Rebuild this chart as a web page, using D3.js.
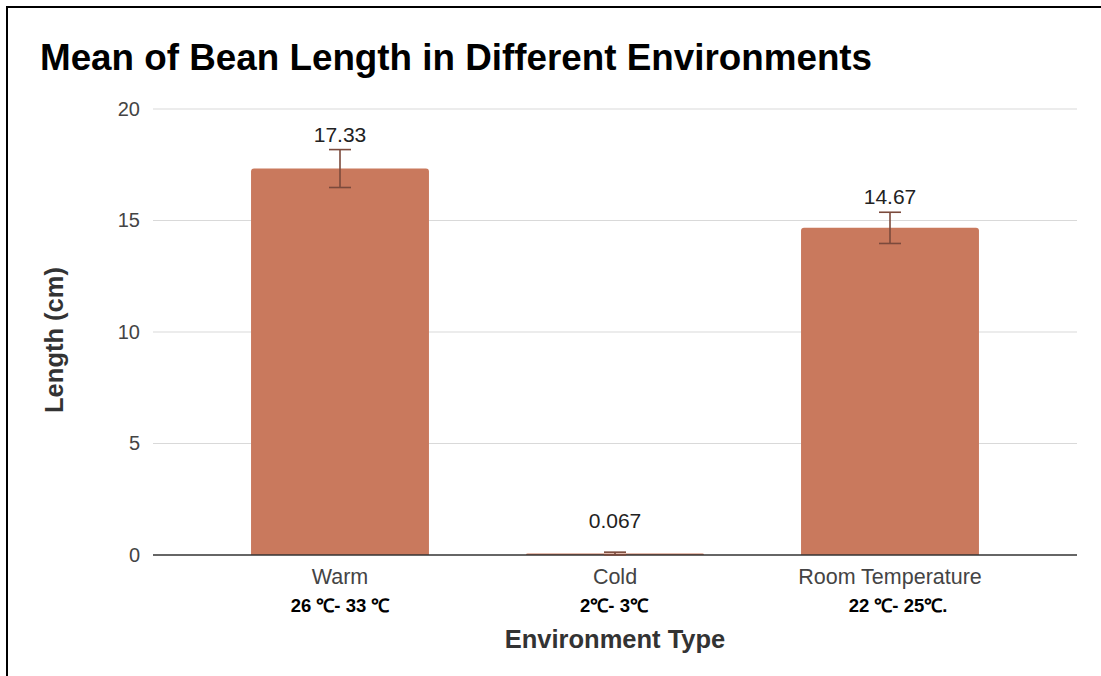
<!DOCTYPE html>
<html><head><meta charset="utf-8">
<script src="https://cdn.jsdelivr.net/npm/d3@7"></script>
<style>body{margin:0;background:#fff}svg{display:block}</style>
</head><body>
<script>
const categories = ["Warm", "Cold", "Room Temperature"];
const subLabels = ["26 ℃- 33 ℃", "2℃- 3℃", "22 ℃- 25℃."];
const means = [17.33, 0.067, 14.67];
const errors = [0.85, 0.06, 0.7];
const valueLabels = ["17.33", "0.067", "14.67"];
const yTicks = [0, 5, 10, 15, 20];

(function () {
const W = 1101, H = 676;
const FONT = "'Liberation Sans', Arial, sans-serif";
const svg = d3.select("body").append("svg").attr("width", W).attr("height", H);

// frame
svg.append("line").attr("x1", 7).attr("x2", W).attr("y1", 7).attr("y2", 7).attr("stroke", "#000").attr("stroke-width", 2);
svg.append("line").attr("x1", 7).attr("x2", 7).attr("y1", 6).attr("y2", H).attr("stroke", "#000").attr("stroke-width", 2);

const pLeft = 153, pRight = 1077, pTop = 109, pBottom = 555;
const y = d3.scaleLinear().domain([0, 20]).range([pBottom, pTop]);
const x = d3.scaleBand().domain(categories).range([202.5, 1027.5]).paddingInner(0.353).paddingOuter(0.1765);

svg.append("text").attr("x", 40).attr("y", 70).attr("font-family", FONT)
  .attr("font-weight", "bold").attr("font-size", 36.8).attr("fill", "#000")
  .text("Mean of Bean Length in Different Environments");

// grid
svg.append("g").selectAll("line").data(yTicks.filter(d => d > 0)).join("line")
  .attr("x1", pLeft).attr("x2", pRight).attr("y1", d => y(d)).attr("y2", d => y(d))
  .attr("stroke", "#d9d9d9").attr("stroke-width", 1);

const yAxis = d3.axisLeft(y).tickValues(yTicks).tickSize(0).tickPadding(13);
const gy = svg.append("g").attr("transform", `translate(${pLeft},0)`).call(yAxis);
gy.select(".domain").remove();
gy.selectAll("text").attr("font-family", FONT).attr("font-size", 20).attr("fill", "#444");

// bars
svg.append("g").selectAll("path").data(categories).join("path")
  .attr("d", (c, i) => {
    const x0 = x(c), w = x.bandwidth(), y0 = y(means[i]), r = Math.min(3, pBottom - y0);
    return `M${x0},${pBottom}V${y0 + r}Q${x0},${y0} ${x0 + r},${y0}H${x0 + w - r}Q${x0 + w},${y0} ${x0 + w},${y0 + r}V${pBottom}Z`;
  })
  .attr("fill", "#c9795d");

// x axis
const xAxis = d3.axisBottom(x).tickSize(0).tickPadding(14);
const gx = svg.append("g").attr("transform", `translate(0,${pBottom})`).call(xAxis);
gx.select(".domain").remove();
gx.selectAll("text").attr("font-family", FONT).attr("font-size", 21.5).attr("fill", "#444").attr("dy", "0.68em");
svg.append("line").attr("x1", pLeft).attr("x2", pRight).attr("y1", pBottom).attr("y2", pBottom).attr("stroke", "#333").attr("stroke-width", 1.6);

// error bars
const eb = svg.append("g").attr("stroke", "#7b4a3c").attr("stroke-width", 1.6);
categories.forEach((c, i) => {
  const cx = x(c) + x.bandwidth() / 2;
  const hi = y(means[i] + errors[i]), lo = y(means[i] - errors[i]);
  eb.append("line").attr("x1", cx).attr("x2", cx).attr("y1", hi).attr("y2", lo);
  eb.append("line").attr("x1", cx - 11).attr("x2", cx + 11).attr("y1", hi).attr("y2", hi);
  eb.append("line").attr("x1", cx - 11).attr("x2", cx + 11).attr("y1", lo).attr("y2", lo);
});

// value labels
svg.append("g").selectAll("text").data(categories).join("text")
  .attr("x", c => x(c) + x.bandwidth() / 2)
  .attr("y", (c, i) => i === 1 ? 528 : y(means[i] + errors[i]) - 8)
  .attr("text-anchor", "middle").attr("font-family", FONT)
  .attr("font-size", 21).attr("fill", "#222").text((c, i) => valueLabels[i]);

// sub labels
svg.append("g").selectAll("text").data(categories).join("text")
  .attr("x", (c, i) => x(c) + x.bandwidth() / 2 + [0, -1, 8][i])
  .attr("y", 612).attr("text-anchor", "middle").attr("font-family", FONT)
  .attr("font-weight", "bold").attr("font-size", 18.5).attr("fill", "#000").text((c, i) => subLabels[i]);

svg.append("text").attr("x", 615).attr("y", 648).attr("text-anchor", "middle")
  .attr("font-family", FONT).attr("font-weight", "bold").attr("font-size", 25.5)
  .attr("fill", "#333").text("Environment Type");

svg.append("text").attr("transform", "translate(63,340) rotate(-90)").attr("text-anchor", "middle")
  .attr("font-family", FONT).attr("font-weight", "bold").attr("font-size", 25.5)
  .attr("fill", "#333").text("Length (cm)");
})();
</script>
</body></html>
